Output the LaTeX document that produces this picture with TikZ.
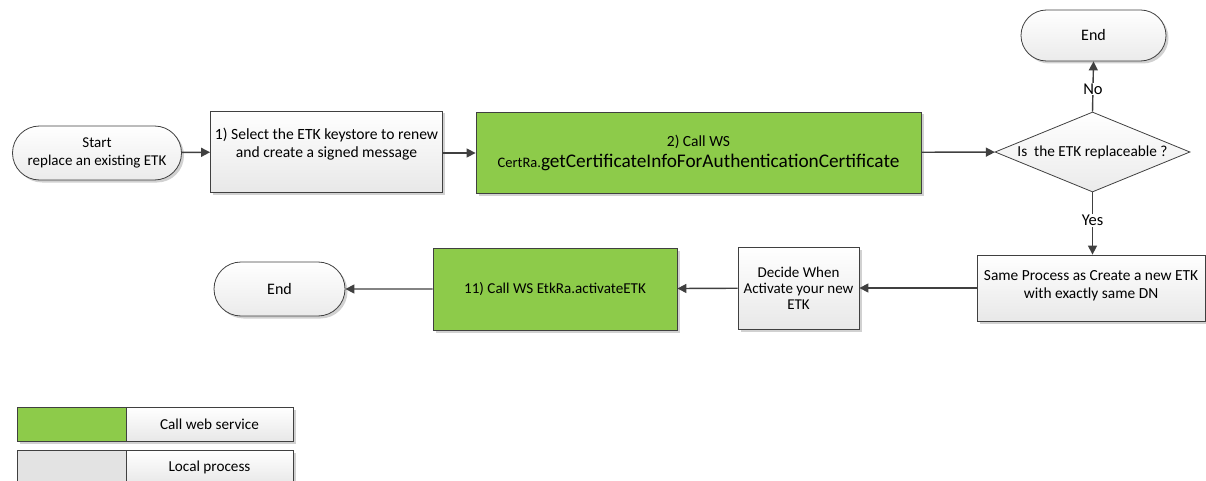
\documentclass[tikz,border=0pt]{standalone}
\usepackage{fontspec}
\setmainfont{Carlito}
\usetikzlibrary{shapes.geometric,shapes.misc,arrows.meta,shadows}
\definecolor{wsgreen}{HTML}{8DCB4A}
\definecolor{edge}{HTML}{404040}
\tikzset{
  base/.style={draw=edge, line width=0.8pt, align=center, inner sep=2pt},
  shad/.style={drop shadow={shadow xshift=2.5pt, shadow yshift=-2.5pt, fill=black!18, opacity=1}},
  proc/.style={base, shad, rectangle, top color=white, bottom color=black!9},
  wsbox/.style={base, shad, rectangle, fill=wsgreen},
  term/.style={base, rounded rectangle, top color=white, bottom color=black!8, shad},
  decis/.style={base, diamond, aspect=2.4, top color=white, bottom color=black!8},
  conn/.style={draw=edge, line width=1.4pt, -{Triangle[length=9pt,width=9pt]}},
  lbl/.style={font=\fontsize{16.5}{19}\selectfont, fill=white, inner sep=1pt},
}
\begin{document}
\begin{tikzpicture}[x=1pt,y=-1pt]
\useasboundingbox (0,0) rectangle (1206,481);
\node[term, minimum width=173pt, minimum height=54pt, font=\fontsize{15}{18}\selectfont] (start) at (97,153) {Start\\replace an existing ETK};
\node[proc, minimum width=232pt, minimum height=81pt,
  label={[align=center, font=\fontsize{15.6}{18}\selectfont, shift={(0,7pt)}]center:1) Select the ETK keystore to renew\\and create a signed message}] (s1) at (326.5,151.5) {};
\node[wsbox, minimum width=445pt, minimum height=81pt, font=\fontsize{15.5}{21}\selectfont] (s2) at (698.5,152.5) {2) Call WS\\{\fontsize{14.5}{21}\selectfont CertRa.}{\fontsize{19.3}{21}\selectfont getCertificateInfoForAuthenticationCertificate}};
\node[decis, minimum width=195pt, minimum height=80pt, inner sep=0pt, font=\fontsize{15.3}{18}\selectfont] (dec) at (1092.5,152) {Is\ \ the ETK replaceable ?};
\node[term, minimum width=149pt, minimum height=51pt, font=\fontsize{16}{18}\selectfont] (end1) at (1093.5,35.5) {End};
\node[proc, minimum width=228pt, minimum height=66pt,
  label={[align=center, font=\fontsize{15.4}{18}\selectfont, shift={(0,2pt)}]center:Same Process as Create a new ETK\\with exactly same DN}] (same) at (1091,288) {};
\node[proc, minimum width=121pt, minimum height=82pt, font=\fontsize{15}{16}\selectfont] (decide) at (798.5,288) {Decide When\\Activate your new\\ETK};
\node[wsbox, minimum width=244pt, minimum height=82pt, font=\fontsize{15.1}{18}\selectfont] (s11) at (555,289) {11) Call WS EtkRa.activateETK};
\node[term, minimum width=135pt, minimum height=54pt, font=\fontsize{16}{18}\selectfont] (end2) at (279.5,289) {End};

\draw[conn] (start) -- (s1);
\draw[conn] (s1.east |- start) -- (s2.west |- start);
\draw[conn] (s2) -- (dec);
\draw[conn] (dec.north) -- node[lbl, pos=0.45] {No} (end1.south);
\draw[conn] (dec.south) -- node[lbl, pos=0.45] {Yes} (same.north -| dec.south);
\draw[conn] (same) -- (decide);
\draw[conn] (decide) -- (s11);
\draw[conn] (s11) -- (end2);

% legend
\node[wsbox, minimum width=109pt, minimum height=34pt] (lg1) at (71.5,424) {};
\node[proc, minimum width=167pt, minimum height=34pt, font=\fontsize{15.2}{18}\selectfont] (lt1) at (209.5,424) {Call web service};
\node[base, shad, fill=black!11, minimum width=109pt, minimum height=34pt] (lg2) at (71.5,467) {};
\node[proc, minimum width=167pt, minimum height=34pt, font=\fontsize{15.2}{18}\selectfont] (lt2) at (209.5,467) {Local process};
\end{tikzpicture}
\end{document}
